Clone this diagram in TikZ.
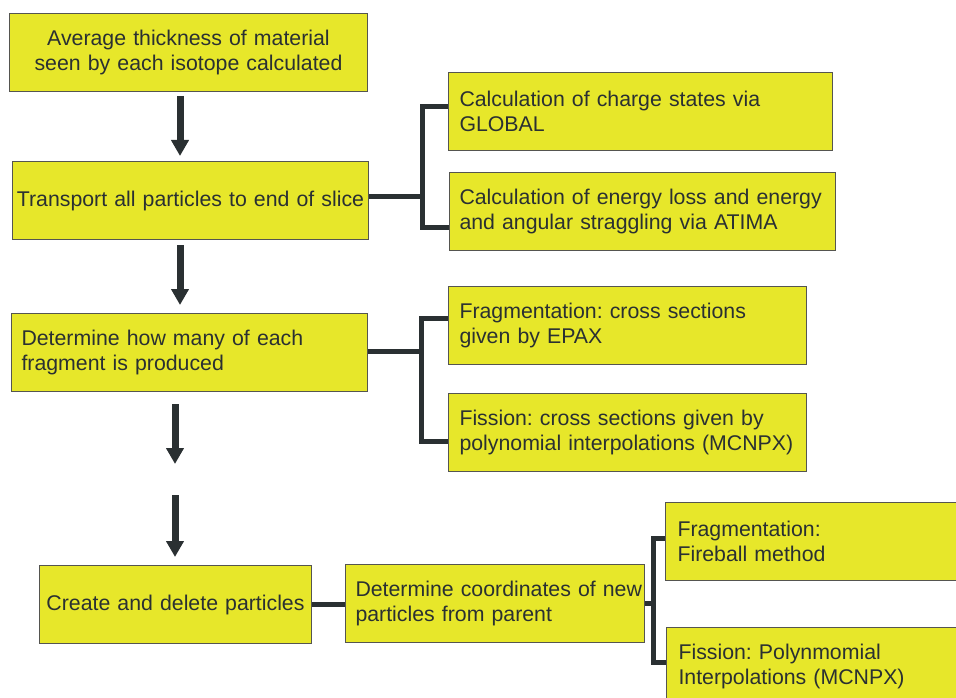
\documentclass[tikz,border=0pt]{standalone}
\usepackage{fontspec}
\setmainfont{Liberation Sans}
\usetikzlibrary{arrows.meta}
\frenchspacing
\definecolor{boxfill}{RGB}{231,231,42}
\definecolor{boxline}{RGB}{85,85,80}
\definecolor{ink}{RGB}{42,48,50}
\tikzset{
  box/.style={draw=boxline, line width=1pt, fill=boxfill, anchor=north west,
    inner ysep=0pt, minimum height=78pt, text=ink, align=left,
    font=\fontsize{21.3}{25}\selectfont\frenchspacing},
  flow/.style={draw=ink, line width=7pt, -{Triangle[width=17pt,length=16pt]}},
  link/.style={draw=ink, line width=5pt, line join=miter},
}
\begin{document}
\begin{tikzpicture}[x=1pt,y=-1pt]
\useasboundingbox (0,0) rectangle (956,698);
% main column
\node[box, minimum width=358pt, text width=350pt, inner xsep=4pt, align=center] (b1) at (9,13)
  {Average thickness of material\\seen by each isotope calculated};
\node[box, minimum width=356pt, text width=350pt, inner xsep=3pt, align=center] (b2) at (12,161)
  {Transport all particles to end of slice};
\node[box, minimum width=356pt, text width=336pt, inner xsep=10pt] (b3) at (11,313)
  {Determine how many of each\\fragment is produced};
\node[box, minimum width=272pt, text width=266pt, inner xsep=3pt, align=center] (b5) at (39,565)
  {Create and delete particles};
% side boxes
\node[box, minimum width=384pt, text width=362pt, inner xsep=11pt] (b2a) at (448,72)
  {Calculation of charge states via\\GLOBAL};
\node[box, minimum width=386pt, text width=366pt, inner xsep=10pt] (b2b) at (449,172)
  {Calculation of energy loss and energy\\and angular straggling via ATIMA};
\node[box, minimum width=358pt, text width=336pt, inner xsep=11pt] (b3a) at (448,286)
  {Fragmentation: cross sections\\given by EPAX};
\node[box, minimum width=358pt, text width=336pt, inner xsep=11pt] (b3b) at (448,393)
  {Fission: cross sections given by\\polynomial interpolations (MCNPX)};
\node[box, minimum width=299pt, text width=279pt, inner xsep=10pt] (b6) at (345,564)
  {\mbox{Determine coordinates of new}\\particles from parent};
\node[box, minimum width=300pt, text width=276pt, inner xsep=12pt] (b7) at (665,502)
  {Fragmentation:\\Fireball method};
\node[box, minimum width=300pt, text width=276pt, inner xsep=12pt] (b8) at (666,627)
  {Fission: Polynmomial\\Interpolations (MCNPX)};
% arrow guide coordinates
\coordinate (ax1) at (180,0);
\coordinate (ax3) at (175,0);
\coordinate (c3) at (175,464);
\coordinate (c4) at (175,495);
\draw[flow, shorten <=4pt, shorten >=5pt] (b1.south -| ax1) -- (b2.north -| ax1);
\draw[flow, shorten <=5pt, shorten >=8pt] (b2.south -| ax1) -- (b3.north -| ax1);
\draw[flow, shorten <=12pt] (b3.south -| ax3) -- (c3);
\draw[flow, shorten >=8pt] (c4) -- (b5.north -| ax3);
% bracket 2
\coordinate (j2a) at (422,107);
\coordinate (j2b) at (422,227);
\coordinate (h2) at (422,196);
\draw[link] (b2.east |- h2) -- (h2);
\draw[link] (b2a.west |- j2a) -- (j2a) -- (j2b) -- (b2b.west |- j2b);
% bracket 3
\coordinate (j3a) at (421,318);
\coordinate (j3b) at (421,441);
\coordinate (h3) at (421,351);
\draw[link] (b3.east |- h3) -- (h3);
\draw[link] (b3a.west |- j3a) -- (j3a) -- (j3b) -- (b3b.west |- j3b);
% bottom row
\draw[link] (b5.east) -- (b6.west |- b5.east);
\coordinate (j6a) at (653,538);
\coordinate (j6b) at (653,662);
\coordinate (h6) at (653,603);
\draw[link] (b6.east |- h6) -- (h6);
\draw[link] (b7.west |- j6a) -- (j6a) -- (j6b) -- (b8.west |- j6b);
\end{tikzpicture}
\end{document}
